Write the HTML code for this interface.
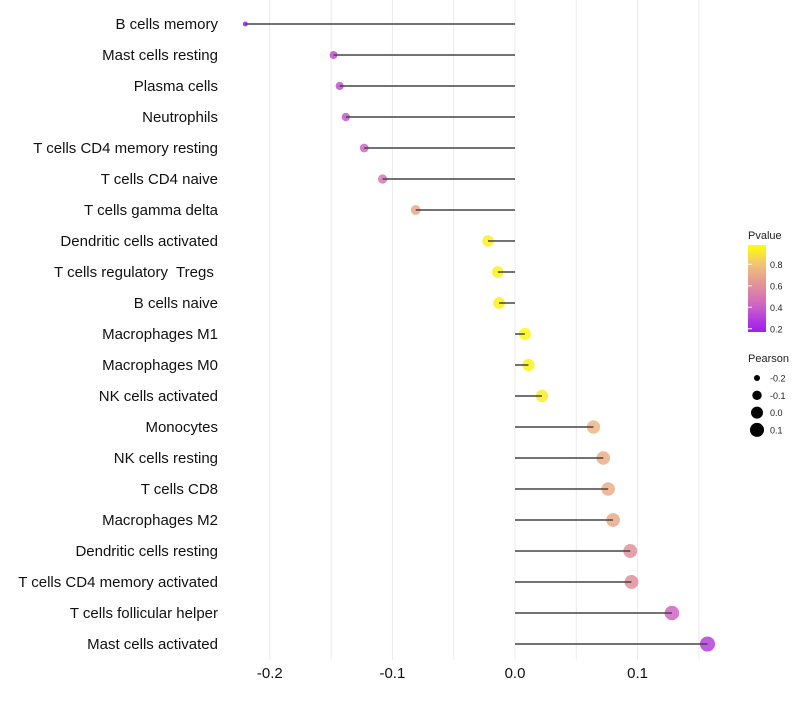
<!DOCTYPE html>
<html><head><meta charset="utf-8"><style>
body{margin:0;background:#fff;font-family:"Liberation Sans",sans-serif;}
text{white-space:pre;}
</style></head><body>
<svg id="c" width="800" height="700" xmlns="http://www.w3.org/2000/svg"></svg>
<script>
const categories=["B cells memory","Mast cells resting","Plasma cells","Neutrophils","T cells CD4 memory resting","T cells CD4 naive","T cells gamma delta","Dendritic cells activated","T cells regulatory  Tregs ","B cells naive","Macrophages M1","Macrophages M0","NK cells activated","Monocytes","NK cells resting","T cells CD8","Macrophages M2","Dendritic cells resting","T cells CD4 memory activated","T cells follicular helper","Mast cells activated"];
const pearson=[-0.220,-0.148,-0.143,-0.138,-0.123,-0.108,-0.081,-0.022,-0.014,-0.013,0.008,0.011,0.022,0.064,0.072,0.076,0.080,0.094,0.095,0.128,0.157];
const pvalue=[0.17,0.35,0.35,0.37,0.42,0.5,0.7,0.93,0.94,0.94,0.96,0.95,0.92,0.75,0.72,0.72,0.7,0.6,0.6,0.42,0.3];
const xTicks=[-0.2,-0.1,0.0,0.1];
const xTickLabels=["-0.2","-0.1","0.0","0.1"];
const legendP=[0.8,0.6,0.4,0.2];
const legendPearson=[-0.2,-0.1,0.0,0.1];
const legendPearsonLabels=["-0.2","-0.1","0.0","0.1"];

const svg=document.getElementById('c');
const NS="http://www.w3.org/2000/svg";
const x=v=>515+v*1226;
const y=i=>24+i*31;
const r=v=>Math.sqrt(Math.max(3,35.8+134*v));
const stops=[[0.2,[160,32,240]],[0.4,[204,96,200]],[0.6,[224,144,154]],[0.8,[242,194,122]],[0.98,[255,255,0]]];
function col(p){
 if(p<=stops[0][0])return `rgb(${stops[0][1]})`;
 for(let i=1;i<stops.length;i++){if(p<=stops[i][0]){const t=(p-stops[i-1][0])/(stops[i][0]-stops[i-1][0]);const a=stops[i-1][1],b=stops[i][1];return `rgb(${a.map((c,k)=>Math.round(c+(b[k]-c)*t)).join(',')})`;}}
 return `rgb(${stops[stops.length-1][1]})`;
}
function el(t,a){const e=document.createElementNS(NS,t);for(const k in a)e.setAttribute(k,a[k]);svg.appendChild(e);return e;}
for(let v=-0.2;v<=0.151;v+=0.05){
 const g=el('line',{x1:x(v),x2:x(v),y1:0,y2:660,stroke:'#ebebeb','stroke-width':1});
 
 
}
xTicks.forEach((v,i)=>{
 const t=el('text',{x:x(v),y:678,'text-anchor':'middle','font-size':15,fill:'#111'});
 t.textContent=xTickLabels[i];
 
 
});
categories.forEach((c,i)=>{
 const t=el('text',{x:218,y:y(i)+5,'text-anchor':'end','font-size':15,fill:'#111'});
 t.textContent=c;
 
 
 const p=el('circle',{cx:x(pearson[i]),cy:y(i),r:r(pearson[i]),fill:col(pvalue[i]),'fill-opacity':0.85});
 
 
 const l=el('line',{x1:x(0),x2:x(pearson[i]),y1:y(i),y2:y(i),stroke:'#444','stroke-width':1.5});
 
 
});
let t=el('text',{x:748,y:239,'font-size':11,fill:'#222'});t.textContent='Pvalue';


const defs=el('defs',{});
const lg=document.createElementNS(NS,'linearGradient');lg.setAttribute('id','g');lg.setAttribute('x1',0);lg.setAttribute('x2',0);lg.setAttribute('y1',1);lg.setAttribute('y2',0);
defs.appendChild(lg);
const pMin=0.17,pMax=0.98;
for(let k=0;k<=10;k++){const p=pMin+(pMax-pMin)*k/10;const s=document.createElementNS(NS,'stop');s.setAttribute('offset',k/10);s.setAttribute('stop-color',col(p));lg.appendChild(s);}
const barTop=245,barBot=332;
const bar=el('rect',{x:748,y:barTop,width:18,height:barBot-barTop,fill:'url(#g)'});


legendP.forEach(p=>{
 const yy=barBot-(p-pMin)/(pMax-pMin)*(barBot-barTop);
 const tk=el('line',{x1:748,x2:752,y1:yy,y2:yy,stroke:'#fff','stroke-width':1});
 
 
 const tt=el('text',{x:770,y:yy+3.5,'font-size':9,fill:'#222'});tt.textContent=p.toFixed(1);
 
 
});
t=el('text',{x:748,y:362,'font-size':11,fill:'#222'});t.textContent='Pearson';


legendPearson.forEach((v,i)=>{
 const yy=378+i*17.3;
 const c=el('circle',{cx:757,cy:yy,r:r(v),fill:'#000'});
 
 
 const tt=el('text',{x:770,y:yy+3.5,'font-size':9,fill:'#222'});tt.textContent=legendPearsonLabels[i];
 
 
});
</script>
</body></html>
